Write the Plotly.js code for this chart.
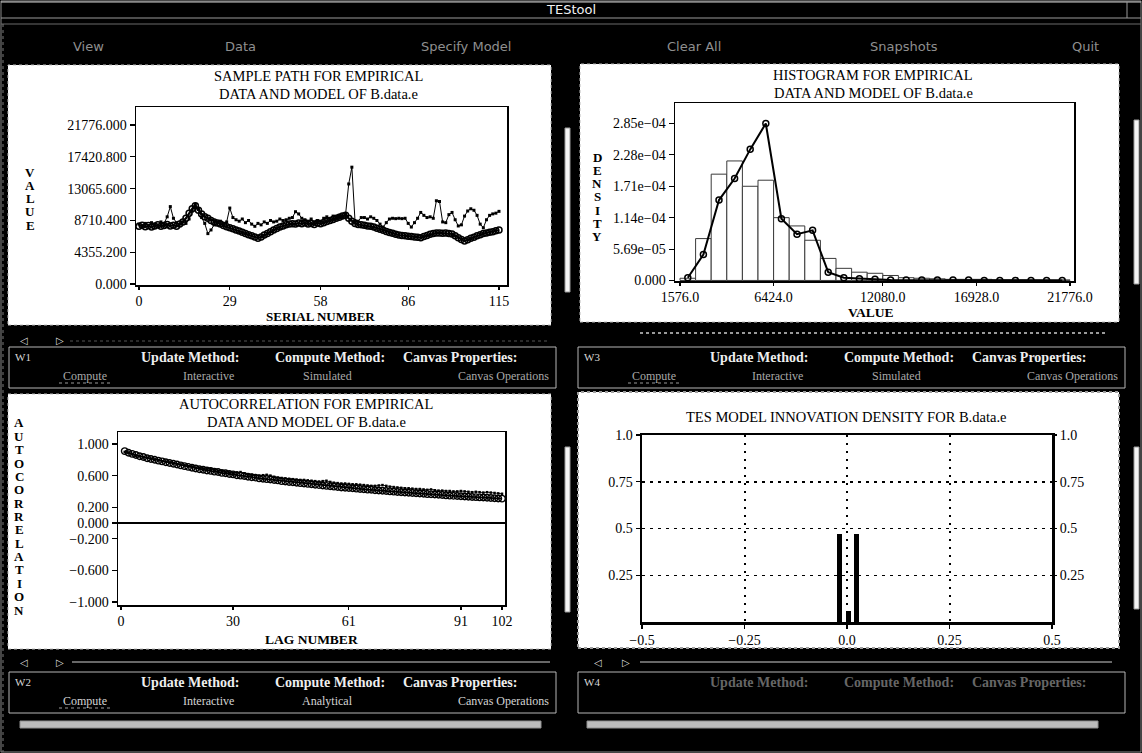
<!DOCTYPE html>
<html>
<head>
<meta charset="utf-8">
<script src="https://cdn.plot.ly/plotly-3.0.1.min.js"></script>
<style>html,body{margin:0;padding:0;background:#000;}#chart{width:1142px;height:753px;}</style>
</head>
<body>
<div id="chart"></div>
<script>
// ---------------- DATA ----------------
const serial = [0,1,2,3,4,5,6,7,8,9,10,11,12,13,14,15,16,17,18,19,20,21,22,23,24,25,26,27,28,29,30,31,32,33,34,35,36,37,38,39,40,41,42,43,44,45,46,47,48,49,50,51,52,53,54,55,56,57,58,59,60,61,62,63,64,65,66,67,68,69,70,71,72,73,74,75,76,77,78,79,80,81,82,83,84,85,86,87,88,89,90,91,92,93,94,95,96,97,98,99,100,101,102,103,104,105,106,107,108,109,110,111,112,113,114,115];
const sampleEmpirical = [8200,7900,8300,8000,8400,8100,7900,8500,8300,9200,10600,9000,8400,8200,8500,8300,8900,10000,10900,10200,9100,8300,6900,7400,8100,8400,8600,8300,8500,10400,9100,8800,8600,8900,8400,8700,8200,7900,8300,8100,8500,8300,8700,8500,8600,8900,8700,8800,9000,9100,9900,9600,9000,8800,8600,8900,8500,8700,8600,9000,9200,8900,9300,9100,9400,9300,9600,13700,16000,8700,8600,9100,9100,8900,9200,9000,8700,8200,7800,8400,8900,9000,8950,9000,8950,9000,8300,7800,8400,9000,9800,9400,9100,9200,9000,11400,11300,8500,8400,9500,9800,8800,7950,8100,9300,10000,10300,10100,9400,8200,7700,8800,9400,9600,9700,9950];
const sampleModel = [7900,8050,7850,8000,7800,7950,8100,7900,8000,8150,7950,8050,7900,8200,8500,9000,9700,10300,10700,10100,9600,9200,9000,8700,8500,8350,8200,8000,7850,7700,7550,7400,7250,7100,6900,6750,6600,6450,6280,6450,6700,6900,7150,7400,7600,7800,7950,8100,8200,8250,8200,8350,8250,8400,8200,8300,8150,8350,8250,8400,8550,8700,8850,9000,9150,9300,9400,9000,8600,8300,8150,8100,8050,7950,7900,7800,7650,7500,7350,7200,7050,6950,6800,6700,6650,6600,6550,6500,6450,6400,6350,6500,6650,6800,6900,7000,7000,6950,7000,6900,6850,6600,6350,6100,5900,6050,6250,6400,6600,6750,6900,7000,7100,7150,7300,7400];
const sampleYTicks = [0, 4355.2, 8710.4, 13065.6, 17420.8, 21776];
const sampleYTickText = ["0.000","4355.200","8710.400","13065.600","17420.800","21776.000"];
const sampleXTicks = [0, 29, 58, 86, 115];

const binCenters = [1980,2788,3596,4404,5212,6020,6828,7636,8444,9252,10060,10868,11676,12484,13292,14100,14908,15716,16524,17332,18140,18948,19756,20564,21372];
const binWidth = 808;
const empiricalDensity = [4e-6,7.6e-5,1.93e-4,2.17e-4,1.71e-4,1.82e-4,1.14e-4,9.9e-5,7.3e-5,4.0e-5,2.2e-5,1.5e-5,1.3e-5,9e-6,5e-6,4e-6,3e-6,2e-6,2e-6,2e-6,1e-6,1e-6,1e-6,1e-6,1e-6];
const modelDensity = [5e-6,4.7e-5,1.46e-4,1.85e-4,2.38e-4,2.85e-4,1.12e-4,8.4e-5,9.1e-5,1.5e-5,5e-6,3e-6,2e-6,1e-6,1e-6,1e-6,1e-6,1e-6,1e-6,0,0,0,0,0,0];
const histXTicks = [1576, 6424, 12080, 16928, 21776];
const histXTickText = ["1576.0","6424.0","12080.0","16928.0","21776.0"];
const histYTicks = [0, 5.69e-5, 1.14e-4, 1.71e-4, 2.28e-4, 2.85e-4];
const histYTickText = ["0.000","5.69e\u221205","1.14e\u221204","1.71e\u221204","2.28e\u221204","2.85e\u221204"];

const lags = [1,2,3,4,5,6,7,8,9,10,11,12,13,14,15,16,17,18,19,20,21,22,23,24,25,26,27,28,29,30,31,32,33,34,35,36,37,38,39,40,41,42,43,44,45,46,47,48,49,50,51,52,53,54,55,56,57,58,59,60,61,62,63,64,65,66,67,68,69,70,71,72,73,74,75,76,77,78,79,80,81,82,83,84,85,86,87,88,89,90,91,92,93,94,95,96,97,98,99,100,101,102];
const acfEmpirical = [0.90,0.885,0.87,0.85,0.845,0.83,0.825,0.81,0.80,0.795,0.78,0.775,0.765,0.755,0.745,0.74,0.73,0.72,0.715,0.70,0.695,0.69,0.68,0.685,0.675,0.66,0.655,0.645,0.64,0.635,0.64,0.645,0.63,0.615,0.61,0.605,0.60,0.605,0.61,0.60,0.585,0.575,0.57,0.565,0.56,0.555,0.55,0.545,0.545,0.54,0.535,0.53,0.525,0.53,0.535,0.52,0.51,0.505,0.50,0.50,0.495,0.49,0.49,0.485,0.48,0.475,0.47,0.47,0.475,0.48,0.47,0.46,0.455,0.45,0.445,0.44,0.44,0.435,0.43,0.43,0.425,0.42,0.425,0.415,0.41,0.41,0.405,0.405,0.40,0.40,0.405,0.40,0.395,0.39,0.395,0.39,0.385,0.39,0.385,0.38,0.375,0.37];
const acfModel = [0.91,0.89,0.875,0.86,0.845,0.835,0.82,0.81,0.80,0.79,0.78,0.77,0.76,0.75,0.74,0.73,0.72,0.71,0.70,0.69,0.68,0.675,0.665,0.66,0.65,0.645,0.635,0.63,0.62,0.615,0.605,0.60,0.595,0.585,0.58,0.575,0.565,0.56,0.555,0.55,0.545,0.54,0.53,0.525,0.52,0.515,0.51,0.505,0.50,0.495,0.49,0.485,0.48,0.475,0.47,0.465,0.46,0.455,0.45,0.447,0.443,0.44,0.435,0.43,0.427,0.423,0.42,0.415,0.412,0.408,0.405,0.40,0.397,0.393,0.39,0.386,0.383,0.38,0.376,0.373,0.37,0.366,0.363,0.36,0.357,0.354,0.35,0.347,0.344,0.341,0.338,0.335,0.332,0.33,0.327,0.324,0.322,0.319,0.316,0.314,0.311,0.309];
const acfYTicks = [1, 0.6, 0.2, 0, -0.2, -0.6, -1];
const acfYTickText = ["1.000","0.600","0.200","0.000","\u22120.200","\u22120.600","\u22121.000"];
const acfXTicks = [0, 30, 61, 91, 102];

const innovX = [-0.018, 0.003, 0.023];
const innovDensity = [0.47, 0.06, 0.47];
const innovXTicks = [-0.5, -0.25, 0, 0.25, 0.5];
const innovXTickText = ["\u22120.5","\u22120.25","0.0","0.25","0.5"];
const innovYTicks = [0.25, 0.5, 0.75, 1.0];
const innovYTickText = ["0.25","0.5","0.75","1.0"];

const menuItems = ["View","Data","Specify Model","Clear All","Snapshots","Quit"];

// ---------------- LAYOUT HELPERS ----------------
const W = 1142, H = 753;
const SERIF = '"Liberation Serif", "DejaVu Serif", serif';
const SANS = '"DejaVu Sans", "Liberation Sans", sans-serif';
const X = p => p / W;
const Y = p => 1 - p / H;

const annotations = [];
function txt(x, y, text, size, color, opts) {
  opts = opts || {};
  annotations.push({
    xref: 'paper', yref: 'paper', x: X(x), y: Y(y), text: text, showarrow: false,
    xanchor: opts.xanchor || 'center', yanchor: 'middle',
    font: {family: opts.family || SERIF, size: size, color: color}
  });
}
function vertical(x, yTop, step, word, size) {
  word.split('').forEach((ch, i) => txt(x, yTop + i * step, '<b>' + ch + '</b>', size, 'black'));
}

const shapes = [];
function rect(x0, y0, x1, y1, fill, line, lw, dash) {
  shapes.push({type: 'rect', xref: 'paper', yref: 'paper', x0: X(x0), x1: X(x1), y0: Y(y1), y1: Y(y0),
    fillcolor: fill || 'rgba(0,0,0,0)', line: {color: line || 'rgba(0,0,0,0)', width: lw || 0, dash: dash || 'solid'}, layer: 'below'});
}
function hline(x0, x1, y, color, lw, dash) {
  shapes.push({type: 'line', xref: 'paper', yref: 'paper', x0: X(x0), x1: X(x1), y0: Y(y), y1: Y(y),
    line: {color: color, width: lw, dash: dash || 'solid'}, layer: 'below'});
}
function vline(x, y0, y1, color, lw, dash) {
  shapes.push({type: 'line', xref: 'paper', yref: 'paper', x0: X(x), x1: X(x), y0: Y(y0), y1: Y(y1),
    line: {color: color, width: lw, dash: dash || 'solid'}, layer: 'below'});
}

// window chrome
rect(1, 1, 1141, 752, null, '#8a8a8a', 1);
hline(1, 1141, 2, '#cfcfcf', 1);
hline(1, 1141, 18, '#9a9a9a', 1);
hline(1, 1141, 24, '#6a6a6a', 1);
vline(3, 24, 752, '#7a7a7a', 1, 'dot');
vline(1127, 2, 18, '#9a9a9a', 1);
txt(571, 10, 'TEStool', 13, '#f2f2f2', {family: SANS});
const menuPos = [88, 240, 466, 694, 904, 1085];
menuItems.forEach((m, i) => txt(menuPos[i], 47, m, 13, '#8f8f8f', {family: SANS}));

// white canvases
rect(8, 65, 551, 325, '#ffffff', '#bdbdbd', 1, 'dot');
rect(580, 64, 1119, 322, '#ffffff', '#bdbdbd', 1, 'dot');
rect(8, 394, 551, 649, '#ffffff', '#bdbdbd', 1, 'dot');
rect(578, 392, 1119, 648, '#ffffff', '#9d9d9d', 2, 'dot');

// vertical scrollbars
rect(565, 128, 570, 292, '#f4f4f4', '#9a9a9a', 1);
rect(1134, 120, 1139, 284, '#f4f4f4', '#9a9a9a', 1);
rect(565, 447, 570, 612, '#f4f4f4', '#9a9a9a', 1);
rect(1134, 447, 1139, 609, '#f4f4f4', '#9a9a9a', 1);

// horizontal scroll rows
txt(24, 340, '\u25C1', 10, '#dddddd');
txt(60, 340, '\u25B7', 10, '#dddddd');
hline(70, 550, 341, '#555555', 1, 'dot');
hline(640, 1106, 333, '#9a9a9a', 2, 'dot');
txt(24, 662, '\u25C1', 10, '#dddddd');
txt(60, 662, '\u25B7', 10, '#dddddd');
hline(72, 550, 662, '#cfcfcf', 1);
txt(598, 662, '\u25C1', 10, '#dddddd');
txt(626, 662, '\u25B7', 10, '#dddddd');
hline(640, 1112, 662, '#cfcfcf', 1);

// control boxes
function wbox(x0, y0, label, row2, headColor, rowColor) {
  rect(x0, y0, x0 + 547, y0 + 41, null, '#b5b5b5', 1);
  txt(x0 + 4, y0 + 10, label, 11, '#d8d8d8', {xanchor: 'left'});
  const hx = [181, 321, 451];
  const heads = ['Update Method:', 'Compute Method:', 'Canvas Properties:'];
  heads.forEach((h, i) => txt(x0 + hx[i], y0 + 10, '<b>' + h + '</b>', 14, headColor));
  if (row2) {
    const rx = [76, 199, 318, 494];
    row2.forEach((r, i) => txt(x0 + rx[i], y0 + 29, r, 12, rowColor));
    hline(x0 + 50, x0 + 104, y0 + 36, '#9a9a9a', 1, 'dot');
  }
}
wbox(9, 347, 'W1', ['Compute', 'Interactive', 'Simulated', 'Canvas Operations'], '#eeeeee', '#a9a9a9');
wbox(578, 347, 'W3', ['Compute', 'Interactive', 'Simulated', 'Canvas Operations'], '#eeeeee', '#a9a9a9');
wbox(9, 672, 'W2', ['Compute', 'Interactive', 'Analytical', 'Canvas Operations'], '#eeeeee', '#d4d4d4');
wbox(578, 672, 'W4', null, '#666666', '#666666');

// bottom status bars
rect(20, 721, 541, 728, '#bcbcbc', '#8f8f8f', 1);
rect(587, 721, 1098, 728, '#bcbcbc', '#8f8f8f', 1);

// plot titles
txt(318, 76, 'SAMPLE PATH FOR EMPIRICAL', 14.5, 'black');
txt(318, 94, 'DATA AND MODEL OF B.data.e', 14.5, 'black');
txt(873, 75, 'HISTOGRAM FOR EMPIRICAL', 14.5, 'black');
txt(873, 93, 'DATA AND MODEL OF B.data.e', 14.5, 'black');
txt(306, 404, 'AUTOCORRELATION FOR EMPIRICAL', 14.5, 'black');
txt(306, 422, 'DATA AND MODEL OF B.data.e', 14.5, 'black');
txt(846, 417, 'TES MODEL INNOVATION DENSITY FOR B.data.e', 14.5, 'black');

// axis titles
txt(320, 316, '<b>SERIAL NUMBER</b>', 13, 'black');
txt(871, 312, '<b>VALUE</b>', 13.5, 'black');
txt(311, 639, '<b>LAG NUMBER</b>', 13.5, 'black');
vertical(30, 172, 13.3, 'VALUE', 13);
vertical(597, 157, 13.3, 'DENSITY', 13);
vertical(19, 423, 13.36, 'AUTOCORRELATION', 13);

// ---------------- AXES ----------------
function ax(domainPx, horizontal, extra) {
  const d = horizontal ? [X(domainPx[0]), X(domainPx[1])] : [Y(domainPx[1]), Y(domainPx[0])];
  return Object.assign({
    domain: d, showgrid: false, zeroline: false, showline: true, linecolor: 'black', linewidth: 1.5,
    mirror: true, ticks: 'outside', ticklen: horizontal ? 3 : 5, tickcolor: 'black', tickwidth: 1.2,
    tickfont: {family: SERIF, size: 14, color: 'black'}, fixedrange: true
  }, extra);
}

const layout = {
  width: W, height: H, margin: {l: 0, r: 0, t: 0, b: 0},
  paper_bgcolor: '#000000', plot_bgcolor: '#ffffff', showlegend: false,
  xaxis: ax([136, 507], true, {anchor: 'y', range: [-0.96, 117.56], tickvals: sampleXTicks}),
  yaxis: ax([107, 285], false, {anchor: 'x', range: [-137, 24240], tickvals: sampleYTicks, ticktext: sampleYTickText}),
  xaxis2: ax([675, 1074], true, {anchor: 'y2', range: [1317, 21983], tickvals: histXTicks, ticktext: histXTickText}),
  yaxis2: ax([103, 281], false, {anchor: 'x2', range: [-1e-6, 3.222e-4], tickvals: histYTicks, ticktext: histYTickText}),
  xaxis3: ax([118, 505], true, {anchor: 'y3', range: [-0.8, 102.8], tickvals: acfXTicks}),
  yaxis3: ax([432, 605], false, {anchor: 'x3', range: [-1.038, 1.152], tickvals: acfYTicks, ticktext: acfYTickText,
           zeroline: true, zerolinecolor: 'black', zerolinewidth: 1.5}),
  xaxis4: ax([642, 1052], true, {anchor: 'y4', range: [-0.5, 0.5], tickvals: innovXTicks, ticktext: innovXTickText,
           linewidth: 2.5, showgrid: true, gridcolor: 'black', gridwidth: 2, griddash: '2px,6px', ticklen: 4}),
  yaxis4: ax([435, 622], false, {anchor: 'x4', range: [0, 1], tickvals: innovYTicks, ticktext: innovYTickText,
           linewidth: 2.5, showgrid: true, gridcolor: 'black', gridwidth: 1.5, griddash: '3px,5px', ticklen: 4}),
  yaxis5: ax([435, 622], false, {anchor: 'x4', overlaying: 'y4', side: 'right', range: [0, 1],
           tickvals: innovYTicks, ticktext: innovYTickText, showline: false, mirror: false, ticklen: 4}),
  annotations: annotations,
  shapes: shapes,
  bargap: 0
};

// ---------------- TRACES ----------------
const traces = [
  {type: 'scatter', mode: 'lines+markers', name: 'Empirical', x: serial, y: sampleEmpirical, xaxis: 'x', yaxis: 'y',
   line: {color: 'black', width: 1}, marker: {symbol: 'square', size: 3, color: 'black'}},
  {type: 'scatter', mode: 'lines+markers', name: 'Model', x: serial, y: sampleModel, xaxis: 'x', yaxis: 'y',
   line: {color: 'black', width: 2.2}, marker: {symbol: 'circle-open', size: 6, color: 'black', line: {width: 1.5}}},
  {type: 'bar', name: 'Empirical', x: binCenters, y: empiricalDensity, width: binWidth, xaxis: 'x2', yaxis: 'y2',
   marker: {color: '#ffffff', line: {color: '#3a3a3a', width: 1}}},
  {type: 'scatter', mode: 'lines+markers', name: 'Model', x: binCenters, y: modelDensity, xaxis: 'x2', yaxis: 'y2',
   line: {color: 'black', width: 2}, marker: {symbol: 'circle-open', size: 6, color: 'black', line: {width: 1.5}}},
  {type: 'scatter', mode: 'lines+markers', name: 'Empirical', x: lags, y: acfEmpirical, xaxis: 'x3', yaxis: 'y3',
   line: {color: '#222', width: 1}, marker: {symbol: 'square', size: 2.5, color: 'black'}},
  {type: 'scatter', mode: 'lines+markers', name: 'Model', x: lags, y: acfModel, xaxis: 'x3', yaxis: 'y3',
   line: {color: 'black', width: 1.8}, marker: {symbol: 'circle-open', size: 6.5, color: 'black', line: {width: 1.4}}},
  {type: 'bar', name: 'Innovation density', x: innovX, y: innovDensity, width: 0.012, xaxis: 'x4', yaxis: 'y4',
   marker: {color: 'black', line: {width: 0}}},
  {type: 'scatter', mode: 'markers', x: innovX, y: innovDensity, xaxis: 'x4', yaxis: 'y5',
   marker: {opacity: 0}, hoverinfo: 'skip'}
];

Plotly.newPlot('chart', traces, layout, {displayModeBar: false, staticPlot: true});
</script>
</body>
</html>
